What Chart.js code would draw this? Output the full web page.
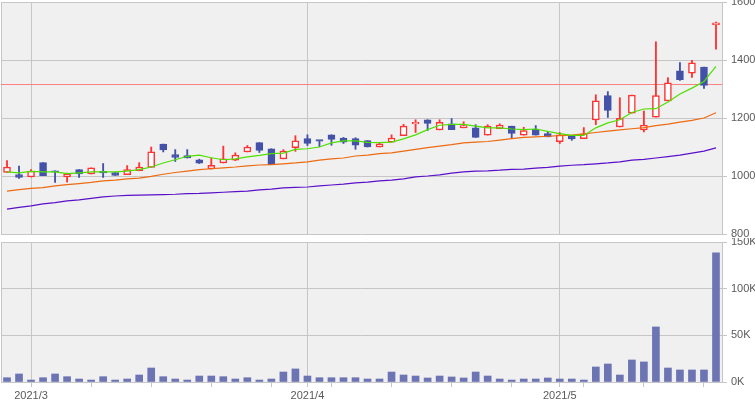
<!DOCTYPE html>
<html>
<head>
<meta charset="utf-8">
<script src="https://cdn.jsdelivr.net/npm/chart.js@4.4.1/dist/chart.umd.min.js"></script>
<style>
  html, body { margin: 0; padding: 0; background: #fff; }
  #wrap { position: relative; width: 755px; height: 400px; }
  canvas { position: absolute; left: 0; }
  #price_chart { top: 0; }
  #volume_chart { top: 238px; }
</style>
</head>
<body>
<div id="wrap">
  <canvas id="price_chart" width="755" height="238"></canvas>
  <canvas id="volume_chart" width="755" height="162"></canvas>
</div>
<script>
// trading days, 2021/2/25 .. 2021/5/25
const dates = [
  '2021/2/25','2021/2/26','2021/3/1','2021/3/2','2021/3/3','2021/3/4','2021/3/5','2021/3/8','2021/3/9','2021/3/10',
  '2021/3/11','2021/3/12','2021/3/15','2021/3/16','2021/3/17','2021/3/18','2021/3/19','2021/3/22','2021/3/23','2021/3/24',
  '2021/3/25','2021/3/26','2021/3/29','2021/3/30','2021/3/31','2021/4/1','2021/4/2','2021/4/5','2021/4/6','2021/4/7',
  '2021/4/8','2021/4/9','2021/4/12','2021/4/13','2021/4/14','2021/4/15','2021/4/16','2021/4/19','2021/4/20','2021/4/21',
  '2021/4/22','2021/4/23','2021/4/26','2021/4/27','2021/4/28','2021/4/30','2021/5/6','2021/5/7','2021/5/10','2021/5/11',
  '2021/5/12','2021/5/13','2021/5/14','2021/5/17','2021/5/18','2021/5/19','2021/5/20','2021/5/21','2021/5/24','2021/5/25'
];
const opens = [1012,1005,997,1046,1015,997,1022,1007,1013,1012, 1005,1018,1030,1110,1074,1070,1056,1024,1045,1055,
  1083,1115,1094,1059,1098,1129,1122,1142,1131,1129, 1122,1100,1117,1139,1180,1194,1159,1180,1166,1166,
  1141,1163,1172,1141,1162,1146,1118,1139,1129,1193, 1277,1169,1217,1159,1203,1259,1363,1355,1376,1521];
const highs = [1053,1034,1022,1046,1018,1010,1022,1028,1043,1012, 1036,1046,1100,1110,1091,1091,1058,1062,1103,1080,
  1105,1115,1094,1091,1139,1142,1122,1142,1133,1132, 1122,1115,1142,1178,1194,1194,1194,1198,1187,1177,
  1177,1180,1172,1168,1174,1154,1150,1139,1167,1280, 1291,1270,1279,1224,1463,1339,1391,1399,1376,1531];
const lows = [1012,992,997,1001,978,979,995,1007,995,1002, 1005,1018,1030,1083,1050,1062,1043,1024,1045,1053,
  1083,1081,1039,1059,1085,1105,1101,1106,1112,1092, 1100,1100,1117,1139,1150,1157,1159,1160,1166,1133,
  1141,1163,1131,1141,1141,1135,1112,1123,1129,1177, 1202,1169,1217,1152,1203,1259,1330,1340,1302,1437];
const closes = [1031,995,1017,1001,1013,1007,1007,1028,1011,1002, 1022,1031,1083,1090,1064,1062,1044,1037,1059,1072,
  1100,1088,1039,1086,1121,1112,1120,1126,1117,1106, 1100,1111,1131,1172,1181,1181,1185,1160,1174,1133,
  1172,1176,1147,1157,1141,1135,1142,1128,1145,1259, 1226,1199,1279,1176,1277,1321,1332,1390,1312,1528];
const volumes = [4600,8600,2100,4600,8600,5700,3200,2100,5700,2100, 3200,7500,15000,5700,3200,2100,6400,6400,5700,3200,
  4600,2100,3200,10700,14000,6400,4600,4600,4600,4600, 3200,3200,10700,7500,6400,4300,6400,5400,4300,10700,
  6400,3200,2100,3200,3200,4300,3200,3200,2100,16100, 19300,7500,23600,21500,59000,15000,12900,12900,12900,138500];
// moving averages (5, 25, 75 day)
const ma5 = [1014,1011,1016,1014,1014,1008,1011,1014,1014,1014, 1017,1022,1031,1045,1056,1068,1072,1063,1056,1059,
  1066,1071,1077,1079,1092,1094,1100,1114,1121,1121, 1116,1115,1117,1128,1142,1160,1175,1178,1178,1172,
  1166,1166,1162,1160,1162,1154,1146,1140,1140,1166, 1183,1194,1219,1231,1232,1255,1283,1303,1326,1378];
const ma25 = [948,953,957,960,966,970,974,978,983,986, 990,993,999,1006,1012,1017,1022,1025,1028,1031,
  1035,1038,1039,1042,1045,1049,1055,1059,1062,1069, 1072,1077,1080,1086,1092,1098,1103,1108,1114,1117,
  1119,1124,1129,1133,1135,1137,1139,1141,1145,1150, 1155,1159,1163,1167,1174,1179,1186,1192,1200,1218];
const ma75 = [886,892,897,904,908,914,918,923,928,931, 933,934,935,936,937,939,940,942,944,946,
  948,952,955,959,961,962,966,969,972,976, 979,983,986,990,997,1000,1004,1010,1014,1017,
  1018,1020,1023,1024,1027,1030,1034,1037,1039,1042, 1045,1049,1055,1057,1062,1067,1072,1079,1086,1097];
const ref_price = 1318;
const price_range = [800, 1600, 200];
const volume_range = [0, 150000, 50000];

const UP = '#ff3333';
const DOWN = '#4352a8';
const GRID = '#c6c6c6';
const TEXT = '#5a5a5a';
const NONE = 'rgba(0,0,0,0)';

Chart.defaults.font.family = "'Liberation Sans', Arial, sans-serif";
Chart.defaults.font.size = 11;

function to_date(s) {
  let p = s.split('/');
  return new Date(+p[0], p[1] - 1, +p[2]);
}
function is_month_start(i) {
  return i > 0 && to_date(dates[i]).getMonth() != to_date(dates[i - 1]).getMonth();
}
function is_week_start(i) {
  return i > 0 && to_date(dates[i]).getDay() < to_date(dates[i - 1]).getDay();
}

//plot background, frame and the horizontal reference line
const plot_frame = {
  id: 'plot_frame',
  beforeDraw(chart) {
    let a = chart.chartArea, ctx = chart.ctx;
    ctx.save();
    ctx.fillStyle = '#f0f0f0';
    ctx.fillRect(a.left, a.top, a.right - a.left, a.bottom - a.top);
    ctx.restore();
  },
  beforeDatasetsDraw(chart) {
    let a = chart.chartArea, ctx = chart.ctx;
    ctx.save();
    ctx.strokeStyle = GRID;
    ctx.lineWidth = 1;
    ctx.beginPath();
    ctx.moveTo(a.left + 0.5, a.top);
    ctx.lineTo(a.left + 0.5, a.bottom);
    ctx.stroke();
    if (chart.options.plugins.plot_frame.ref) {
      let y = Math.round(chart.scales.y.getPixelForValue(ref_price)) + 0.5;
      ctx.strokeStyle = '#ff8080';
      ctx.beginPath();
      ctx.moveTo(a.left, y);
      ctx.lineTo(a.right, y);
      ctx.stroke();
    }
    ctx.restore();
  }
};

function y_axis(range, cb) {
  return {
    position: 'right',
    min: range[0], max: range[1],
    ticks: {stepSize: range[2], color: TEXT, padding: 4, callback: cb},
    grid: {color: GRID, tickColor: GRID, tickLength: 5},
    border: {color: GRID},
    //fixed width, and no room kept for the end labels
    afterFit: (s) => { s.width = 33; s.paddingTop = 0; s.paddingBottom = 0; }
  };
}

function make_price_chart(ctx) {
  let up = dates.map((d, i) => closes[i] >= opens[i]);
  let line = (data, color) => ({
    type: 'line', data: data, borderColor: color, borderWidth: 1.2,
    pointRadius: 0, tension: 0, order: 0
  });
  const data = {
    labels: dates,
    datasets: [
      line(ma5, '#4fe000'),
      line(ma25, '#ee6a10'),
      line(ma75, '#5a10c8'),
      {
        data: dates.map((d, i) => [opens[i], closes[i]]),
        backgroundColor: up.map(u => u ? '#ffffff' : DOWN),
        borderColor: up.map(u => u ? UP : DOWN),
        borderWidth: 1.5, borderSkipped: false,
        barThickness: 7, minBarLength: 1.5, grouped: false, order: 1
      },
      {
        data: dates.map((d, i) => [lows[i], highs[i]]),
        backgroundColor: up.map(u => u ? UP : DOWN),
        barThickness: 1.2, grouped: false, order: 2
      }
    ]
  };
  const options = {
    responsive: false,
    animation: false,
    layout: {padding: {left: 1, top: 2, bottom: 4, right: 0}},
    plugins: {legend: {display: false}, tooltip: {enabled: false}, plot_frame: {ref: true}},
    scales: {
      x: {
        grid: {offset: false, drawTicks: false, color: (c) => is_month_start(c.index) ? GRID : NONE},
        ticks: {display: false, autoSkip: false},
        border: {display: false},
        afterFit: (s) => { s.height = 0; }
      },
      y: y_axis(price_range)
    }
  };
  return new Chart(ctx, {type: 'bar', data: data, options: options, plugins: [plot_frame]});
}

function make_volume_chart(ctx) {
  const data = {
    labels: dates,
    datasets: [{data: volumes, backgroundColor: '#6c74b4', barThickness: 7}]
  };
  const options = {
    responsive: false,
    animation: false,
    layout: {padding: {left: 1, top: 4, bottom: 0, right: 0}},
    plugins: {legend: {display: false}, tooltip: {enabled: false}, plot_frame: {ref: false}},
    scales: {
      x: {
        grid: {
          offset: false, tickLength: 5,
          color: (c) => is_month_start(c.index) ? GRID : NONE,
          tickColor: (c) => (is_month_start(c.index) || is_week_start(c.index)) ? GRID : NONE
        },
        ticks: {
          autoSkip: false, maxRotation: 0, color: TEXT, padding: 2,
          callback: (v, i) => is_month_start(i) ? dates[i].slice(0, dates[i].lastIndexOf('/')) : ''
        },
        border: {color: GRID},
        afterFit: (s) => { s.height = 18; s.paddingLeft = 0; s.paddingRight = 0; }
      },
      y: y_axis(volume_range, (v) => (v / 1000) + 'K')
    }
  };
  return new Chart(ctx, {type: 'bar', data: data, options: options, plugins: [plot_frame]});
}

window.addEventListener('load', function () {
  make_price_chart(document.getElementById('price_chart').getContext('2d'));
  make_volume_chart(document.getElementById('volume_chart').getContext('2d'));
});
</script>
</body>
</html>
